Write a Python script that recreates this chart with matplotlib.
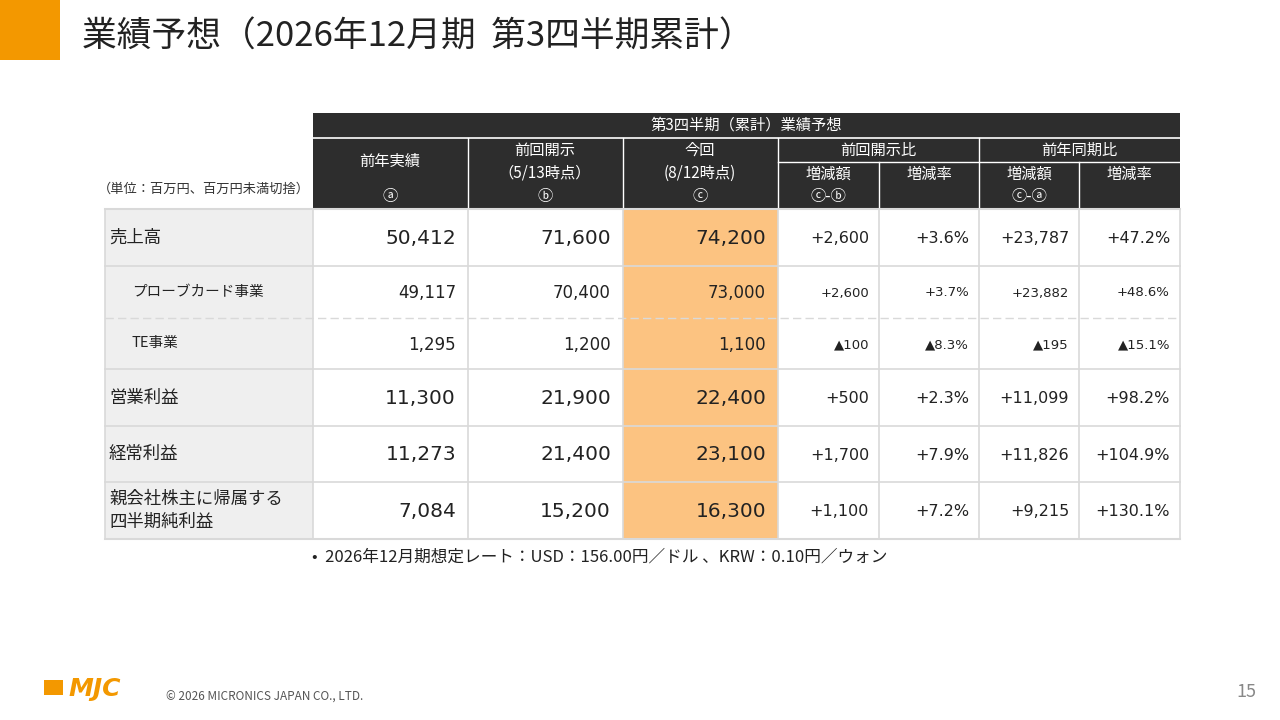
import matplotlib
matplotlib.use("Agg")
import matplotlib.pyplot as plt
from matplotlib.patches import Rectangle

plt.rcParams['font.family'] = ['Noto Sans CJK JP', 'DejaVu Sans']

title = "業績予想（2026年12月期  第3四半期累計）"
row_labels = ["売上高", "プローブカード事業", "TE事業", "営業利益", "経常利益", "親会社株主に帰属する\n四半期純利益"]
prev_year = ["50,412", "49,117", "1,295", "11,300", "11,273", "7,084"]
prev_fc = ["71,600", "70,400", "1,200", "21,900", "21,400", "15,200"]
curr_fc = ["74,200", "73,000", "1,100", "22,400", "23,100", "16,300"]
diff_fc = ["+2,600", "+2,600", "▲100", "+500", "+1,700", "+1,100"]
rate_fc = ["+3.6%", "+3.7%", "▲8.3%", "+2.3%", "+7.9%", "+7.2%"]
diff_py = ["+23,787", "+23,882", "▲195", "+11,099", "+11,826", "+9,215"]
rate_py = ["+47.2%", "+48.6%", "▲15.1%", "+98.2%", "+104.9%", "+130.1%"]
sub_row = [False, True, True, False, False, False]

W, H = 1280, 720
fig = plt.figure(figsize=(12.8, 7.2), dpi=100)
ax = fig.add_axes([0, 0, 1, 1])
ax.set_xlim(0, W); ax.set_ylim(H, 0); ax.axis('off')

ORANGE = "#f39800"; DARK = "#2d2d2d"; HL = "#fcc381"; GRAY = "#efefef"; LINE = "#d9d9d9"
NUMF = ['DejaVu Sans', 'Noto Sans CJK JP']
def rect(x0, y0, x1, y1, fc, ec="none", lw=0):
    ax.add_patch(Rectangle((x0, y0), x1 - x0, y1 - y0, facecolor=fc, edgecolor=ec, linewidth=lw))

rect(0, 0, 60, 60, ORANGE)
ax.text(82, 37, title, fontsize=25, va='center', ha='left', color='#222222')

xs = [105, 313, 468, 623, 778, 879, 979, 1079, 1180]
rect(313, 113, 1180, 209, DARK)
ax.text((313 + 1180) / 2, 125, "第3四半期（累計）業績予想", color='white', fontsize=11, ha='center', va='center')
for x in [468, 623, 778, 979]:
    ax.plot([x, x], [138, 209], color='white', lw=1)
for x in [879, 1079]:
    ax.plot([x, x], [162, 209], color='white', lw=1)
ax.plot([313, 1180], [138, 138], color='white', lw=1.2)
ax.plot([778, 1180], [162, 162], color='white', lw=1)
hc = dict(color='white', fontsize=11, ha='center', va='center')
ax.text(390, 161, "前年実績", **hc); ax.text(390, 197, "ⓐ", **hc)
ax.text(545, 150, "前回開示", **hc); ax.text(545, 173, "（5/13時点）", **hc); ax.text(545, 197, "ⓑ", **hc)
ax.text(700, 150, "今回", **hc); ax.text(700, 173, "(8/12時点)", **hc); ax.text(700, 197, "ⓒ", **hc)
ax.text(878, 150, "前回開示比", **hc); ax.text(1079, 150, "前年同期比", **hc)
for x0, x1, t in [(778, 879, "増減額"), (879, 979, "増減率"), (979, 1079, "増減額"), (1079, 1180, "増減率")]:
    ax.text((x0 + x1) / 2, 174, t, **hc)
ax.text(828, 197, "ⓒ-ⓑ", **hc); ax.text(1029, 197, "ⓒ-ⓐ", **hc)
ax.text(310, 189, "（単位：百万円、百万円未満切捨）", fontsize=9.5, ha='right', va='center', color='#333333')

ys = [209, 266, 318, 369, 426, 482, 539]
cols = [prev_year, prev_fc, curr_fc, diff_fc, rate_fc, diff_py, rate_py]
for i, lab in enumerate(row_labels):
    y0, y1 = ys[i], ys[i + 1]; yc = (y0 + y1) / 2
    rect(105, y0, 313, y1, GRAY)
    rect(623, y0, 778, y1, HL)
    small = sub_row[i]
    ax.text(132 if small else 109, yc, lab, fontsize=10.5 if small else 12.5, ha='left', va='center',
            color='#222222', linespacing=1.35)
    for j, vals in enumerate(cols):
        big = j < 3
        fs = (12 if small else 14.5) if big else (9.5 if small else 11.5)
        ax.text(xs[j + 2] - 12 if big else xs[j + 2] - 10, yc + 1, vals[i], fontsize=fs,
                ha='right', va='center', color='#222222', family=NUMF)
for k, y in enumerate(ys):
    if k == 2:
        ax.plot([105, 1180], [y, y], color=LINE, lw=1, ls=(0, (6, 3)))
    else:
        ax.plot([105, 1180], [y, y], color=LINE, lw=1.5 if k in (0, 6) else 1.2)
for x in xs:
    ax.plot([x, x], [209, 539], color=LINE, lw=1.2)

ax.text(312, 557, "•  2026年12月期想定レート：USD：156.00円／ドル 、KRW：0.10円／ウォン", fontsize=12,
        ha='left', va='center', color='#222222')

rect(44, 680, 63, 695, ORANGE)
ax.text(68, 689, "MJC", fontsize=18, fontweight='bold', fontstyle='italic', color=ORANGE, ha='left', va='center',
        family='DejaVu Sans')
ax.text(166, 697, "© 2026 MICRONICS JAPAN CO., LTD.", fontsize=8.5, color='#555555', ha='left', va='center')
ax.text(1256, 692, "15", fontsize=13, color='#888888', ha='right', va='center')

fig.savefig("out.png", dpi=100)
